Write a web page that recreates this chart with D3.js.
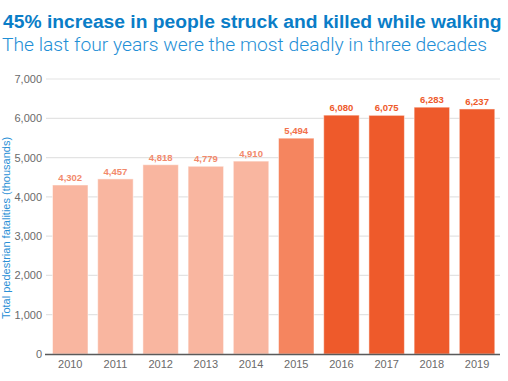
<!DOCTYPE html>
<html>
<head>
<meta charset="utf-8">
<script src="https://cdn.jsdelivr.net/npm/d3@7"></script>
<style>
  html, body { margin: 0; padding: 0; background: #fff; overflow: hidden; }
  svg { display: block; }
</style>
</head>
<body>
<svg id="chart" width="508" height="381"></svg>
<script>
const years = ["2010","2011","2012","2013","2014","2015","2016","2017","2018","2019"];
const fatalities = [4302, 4457, 4818, 4779, 4910, 5494, 6080, 6075, 6283, 6237];
const shade = ["light","light","light","light","light","mid","dark","dark","dark","dark"];
const yTicks = [0, 1000, 2000, 3000, 4000, 5000, 6000, 7000];
const titleText = "45% increase in people struck and killed while walking";
const subtitleText = "The last four years were the most deadly in three decades";
const yLabelText = "Total pedestrian fatalities (thousands)";

const barColor = { light: "#f9b6a0", mid: "#f5855f", dark: "#ee5a2b" };
const labelColor = { light: "#f2896b", mid: "#f2704a", dark: "#ee5a2b" };

const svg = d3.select("#chart");

const x = d3.scaleBand().domain(years).range([52.5, 494.8]).paddingInner(0.215).paddingOuter(0);
const y = d3.scaleLinear().domain([0, 7000]).range([354, 79]);

function fitText(sel, target, base) {
  sel.attr("font-size", base);
  const w = sel.node().getComputedTextLength();
  if (w > 0) sel.attr("font-size", base * target / w);
}

// title
const title = svg.append("text").attr("x", 3).attr("y", 28)
  .attr("font-family", "Liberation Sans, Arial, sans-serif").attr("font-weight", "bold")
  .attr("fill", "#0a7dc7").text(titleText);
fitText(title, 499, 20);
const sub = svg.append("text").attr("x", 2).attr("y", 51)
  .attr("font-family", "Roboto, Liberation Sans, sans-serif").attr("font-weight", 300)
  .attr("fill", "#1f8fd6").text(subtitleText);
fitText(sub, 485, 19.5);

// gridlines
svg.append("g").selectAll("line").data(yTicks.filter(d => d > 0)).join("line")
  .attr("x1", 46).attr("x2", 500)
  .attr("y1", d => y(d)).attr("y2", d => y(d))
  .attr("stroke", "#e3e3e3").attr("stroke-width", 1.2);

// y axis labels
const yAxis = d3.axisLeft(y).tickValues(yTicks).tickSize(0).tickPadding(0).tickFormat(d3.format(","));
const gy = svg.append("g").attr("transform", "translate(42,0)").call(yAxis);
gy.select(".domain").remove();
gy.selectAll("text").attr("font-family", "Liberation Sans, Arial, sans-serif").attr("font-size", 11)
  .attr("fill", "#6a6a6a");

// y label
svg.append("text").attr("transform", "translate(10,228) rotate(-90)")
  .attr("text-anchor", "middle")
  .attr("font-family", "Liberation Sans, Arial, sans-serif").attr("font-size", 11)
  .attr("fill", "#2a90d6").text(yLabelText);

// bars
svg.append("g").selectAll("rect").data(years).join("rect")
  .attr("x", d => x(d)).attr("width", x.bandwidth())
  .attr("y", (d, i) => y(fatalities[i])).attr("height", (d, i) => y(0) - y(fatalities[i]))
  .attr("fill", (d, i) => barColor[shade[i]])
  .attr("stroke", "#fff").attr("stroke-opacity", 0.5).attr("stroke-width", 1);

// value labels
svg.append("g").selectAll("text").data(years).join("text")
  .attr("x", d => x(d) + x.bandwidth() / 2).attr("y", (d, i) => y(fatalities[i]) - 4)
  .attr("text-anchor", "middle")
  .attr("font-family", "Liberation Sans, Arial, sans-serif").attr("font-weight", "bold").attr("font-size", 9.5)
  .attr("fill", (d, i) => labelColor[shade[i]])
  .text((d, i) => d3.format(",")(fatalities[i]));

// x axis
const xAxis = d3.axisBottom(x).tickSize(0).tickPadding(6);
const gx = svg.append("g").attr("transform", "translate(0,354)").call(xAxis);
gx.select(".domain").remove();
svg.append("line").attr("x1", 45).attr("x2", 500).attr("y1", 354.5).attr("y2", 354.5)
  .attr("stroke", "#5a5a5a").attr("stroke-width", 1.3);
gx.selectAll("text").attr("font-family", "Liberation Sans, Arial, sans-serif").attr("font-size", 11)
  .attr("fill", "#6a6a6a");
</script>
</body>
</html>
